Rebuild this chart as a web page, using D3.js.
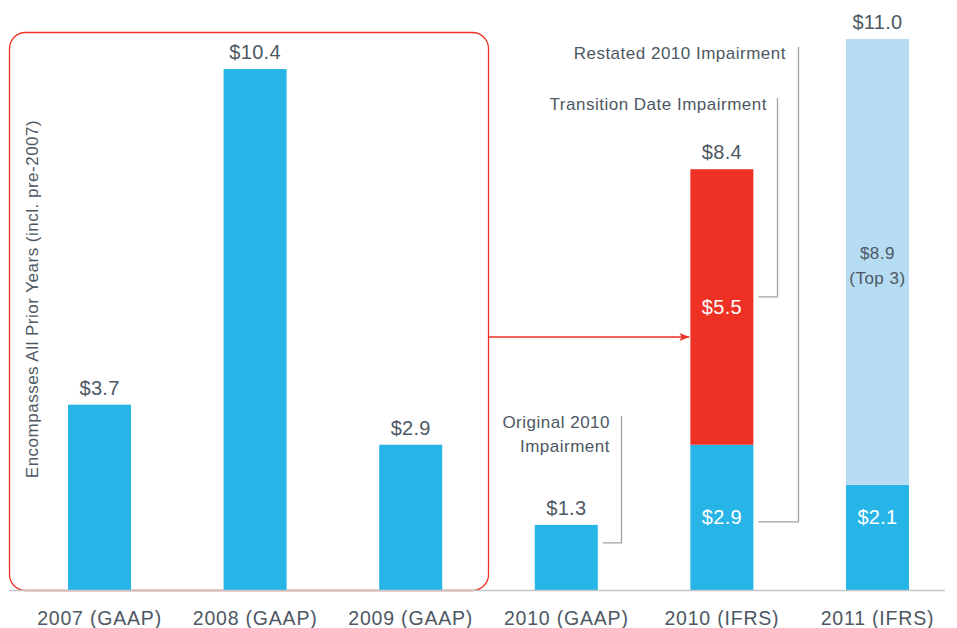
<!DOCTYPE html>
<html><head><meta charset="utf-8">
<script src="https://cdn.jsdelivr.net/npm/d3@7"></script>
<style>
html,body{margin:0;padding:0;background:#fff;}
svg text{font-family:"Liberation Sans",Arial,Helvetica,sans-serif;}
</style></head>
<body>
<svg id="chart" width="957" height="628"></svg>
<script>
const categories = ["2007 (GAAP)","2008 (GAAP)","2009 (GAAP)","2010 (GAAP)","2010 (IFRS)","2011 (IFRS)"];
const baseValues = [3.7, 10.4, 2.9, 1.3, 2.9, 2.1];
const transitionValues = [0, 0, 0, 0, 5.5, 0];
const top3Values = [0, 0, 0, 0, 0, 8.9];
const totalLabels = ["$3.7","$10.4","$2.9","$1.3","$8.4","$11.0"];
const callouts = ["Original 2010 Impairment","Transition Date Impairment","Restated 2010 Impairment"];
const sideNote = "Encompasses All Prior Years (incl. pre-2007)";

const svg = d3.select("#chart");
const baseY = 590;
const x = d3.scaleBand().domain(categories).range([10, 967]).paddingInner(0.595).paddingOuter(0.373);
const y = d3.scaleLinear().domain([0, 11]).range([baseY, 39]);
const bw = x.bandwidth();
const textCol = "#4d5863";
const blue = "#27b5e8", red = "#ee3124", light = "#b5dcf2";

// rounded red frame
svg.append("rect").attr("x", 9.5).attr("y", 32.5).attr("width", 479).attr("height", 558)
  .attr("rx", 16).attr("fill", "none").attr("stroke", "#ee3124").attr("stroke-width", 1.3);

// bars
const stack = categories.map((c,i)=>({c, base: baseValues[i], trans: transitionValues[i], top: top3Values[i]}));
svg.selectAll("rect.base").data(stack).join("rect").attr("class","base")
  .attr("x", d=>x(d.c)).attr("width", bw)
  .attr("y", d=>y(d.base)).attr("height", d=>y(0)-y(d.base)).attr("fill", blue);
svg.selectAll("rect.trans").data(stack.filter(d=>d.trans>0)).join("rect").attr("class","trans")
  .attr("x", d=>x(d.c)).attr("width", bw)
  .attr("y", d=>y(d.base+d.trans)).attr("height", d=>y(d.base)-y(d.base+d.trans)).attr("fill", red);
svg.selectAll("rect.top").data(stack.filter(d=>d.top>0)).join("rect").attr("class","top")
  .attr("x", d=>x(d.c)).attr("width", bw)
  .attr("y", d=>y(d.base+d.top)).attr("height", d=>y(d.base)-y(d.base+d.top)).attr("fill", light);

// baseline
svg.append("line").attr("x1", 9).attr("x2", 945).attr("y1", baseY+0.5).attr("y2", baseY+0.5)
  .attr("stroke", "#c3c6c8").attr("stroke-width", 1.5);

// x axis labels
const xAxis = d3.axisBottom(x).tickSize(0).tickPadding(0);
const ax = svg.append("g").attr("transform", `translate(0,${baseY})`).call(xAxis);
ax.select(".domain").remove();
ax.selectAll("text").attr("y", 0).attr("dy", 0).attr("transform","translate(0,35)")
  .attr("fill", textCol).style("font-size","19.5px").style("letter-spacing","0.8px");

// total labels
svg.selectAll("text.tot").data(stack).join("text").attr("class","tot")
  .attr("x", d=>x(d.c)+bw/2).attr("y", d=>y(d.base+d.trans+d.top)-10)
  .attr("text-anchor","middle").attr("fill", textCol).style("font-size","20px").style("letter-spacing","0.3px")
  .text((d,i)=>totalLabels[i]);

// inside labels
const c3 = categories[3], c4 = categories[4], c5 = categories[5];
function inLabel(cat, yv, txt, col){
  svg.append("text").attr("x", x(cat)+bw/2).attr("y", yv).attr("text-anchor","middle")
    .attr("fill", col).style("font-size","20px").style("letter-spacing","0.3px").text(txt);
}
inLabel(c4, y(baseValues[4]/2) + 7, "$" + baseValues[4].toFixed(1), "#fff");
inLabel(c4, y(baseValues[4]+transitionValues[4]/2) + 7, "$" + transitionValues[4].toFixed(1), "#fff");
inLabel(c5, y(baseValues[4]/2) + 7, "$" + baseValues[5].toFixed(1), "#fff");
svg.append("text").attr("x", x(c5)+bw/2).attr("y", y(baseValues[5]+top3Values[5]/2)-3).attr("text-anchor","middle")
  .attr("fill", textCol).style("font-size","17px").style("letter-spacing","0.5px")
  .selectAll("tspan").data(["$" + top3Values[5].toFixed(1), "(Top 3)"]).join("tspan")
  .attr("x", x(c5)+bw/2).attr("dy",(d,i)=>i===0?0:25).text(d=>d);

// callouts
const gray = "#9fa3a6";
function bracket(xl, yTop, yBot, xEnd){
  svg.append("path").attr("d", `M${xl},${yTop}V${yBot}H${xEnd}`).attr("fill","none")
    .attr("stroke", gray).attr("stroke-width", 1.3);
}
const calloutStyle = sel => sel.attr("text-anchor","end").attr("fill", textCol)
  .style("font-size","17px").style("letter-spacing","0.5px");
// Original 2010
bracket(621.5, 416, y(0.94), x(c3)+bw+5);
svg.append("text").call(calloutStyle)
  .selectAll("tspan").data(["Original 2010","Impairment"]).join("tspan")
  .attr("x", 610).attr("y",(d,i)=>428+i*23.5).text(d=>d);
// Transition
bracket(777.5, 98, y(5.85), x(c4)+bw+5);
svg.append("text").call(calloutStyle).attr("x", 767).attr("y", 110).text(callouts[1]);
// Restated
bracket(798.5, 47, y(1.36), x(c4)+bw+5);
svg.append("text").call(calloutStyle).attr("x", 786).attr("y", 59).text(callouts[2]);

// arrow
svg.append("defs").append("marker").attr("id","ah").attr("viewBox","0 0 10 10").attr("refX",10).attr("refY",5)
  .attr("markerWidth",11).attr("markerHeight",10).attr("markerUnits","userSpaceOnUse").attr("orient","auto")
  .append("path").attr("d","M0,1L10,5L0,9L2.5,5Z").attr("fill", red);
svg.append("line").attr("x1", 489).attr("x2", x(c4)-1).attr("y1", 337).attr("y2", 337)
  .attr("stroke", red).attr("stroke-width", 1.3).attr("marker-end","url(#ah)");

// side note
svg.append("text").attr("transform","translate(38,299) rotate(-90)").attr("text-anchor","middle")
  .attr("fill", textCol).style("font-size","17px").style("letter-spacing","0.5px").text(sideNote);
</script>
</body></html>
